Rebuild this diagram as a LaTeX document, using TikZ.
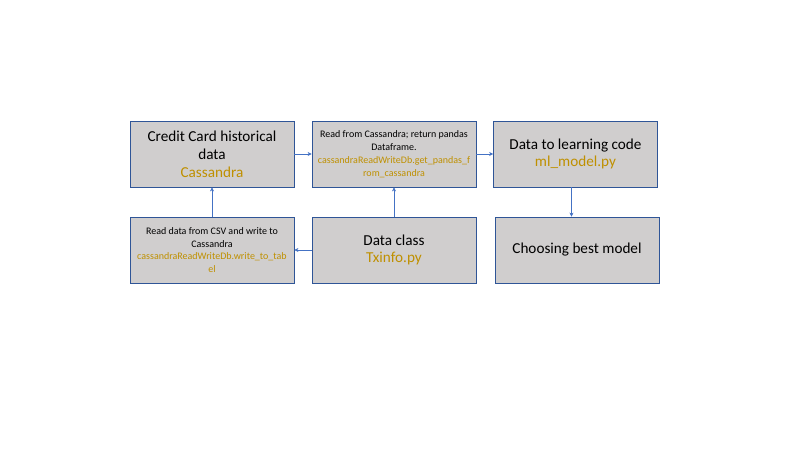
\documentclass[tikz,border=0pt]{standalone}
\usepackage{fontspec}
\setmainfont{Carlito}
\usetikzlibrary{arrows.meta, positioning}
\definecolor{boxfill}{HTML}{D0CECE}
\definecolor{boxline}{HTML}{2F5597}
\definecolor{flowline}{HTML}{4472C4}
\definecolor{codetext}{HTML}{BF9000}

\begin{document}
\begin{tikzpicture}[
    x=1pt, y=-1pt,
    box/.style={draw=boxline, fill=boxfill, line width=0.8pt, align=center, minimum width=164pt, minimum height=66pt, inner sep=2pt},
    big/.style={font=\fontsize{15.2}{17.8}\selectfont},
    small/.style={font=\fontsize{10}{12.8}\selectfont},
    flow/.style={-{Stealth[length=4pt, width=4pt]}, flowline, line width=0.5pt}
]
\useasboundingbox (0,0) rectangle (800,450);

\node[box, big] (hist) at (212,154) {Credit Card historical\\data\\\textcolor{codetext}{Cassandra}};
\node[box, small] (readdb) at (394,154) {Read from Cassandra; return pandas\\Dataframe.\\\textcolor{codetext}{cassandraReadWriteDb.get\_pandas\_f}\\\textcolor{codetext}{rom\_cassandra}};
\node[box, big] (learn) at (575.5,154) {Data to learning code\\\textcolor{codetext}{ml\_model.py}};
\node[box, small] (writecsv) at (212,250) {Read data from CSV and write to\\Cassandra\\\textcolor{codetext}{cassandraReadWriteDb.write\_to\_tab}\\\textcolor{codetext}{el}};
\node[box, big] (dataclass) at (394,250) {Data class\\\textcolor{codetext}{Txinfo.py}};
\node[box, big] (best) at (577,250) {Choosing best model};

\draw[flow] (hist) -- (readdb);
\draw[flow] (readdb) -- (learn);
\draw[flow] (writecsv) -- (hist);
\draw[flow] (dataclass) -- (readdb);
\draw[flow] (dataclass) -- (writecsv);
\draw[flow] ([xshift=-4pt]learn.south) -- ([xshift=-4pt]learn.south |- best.north);
\end{tikzpicture}
\end{document}
